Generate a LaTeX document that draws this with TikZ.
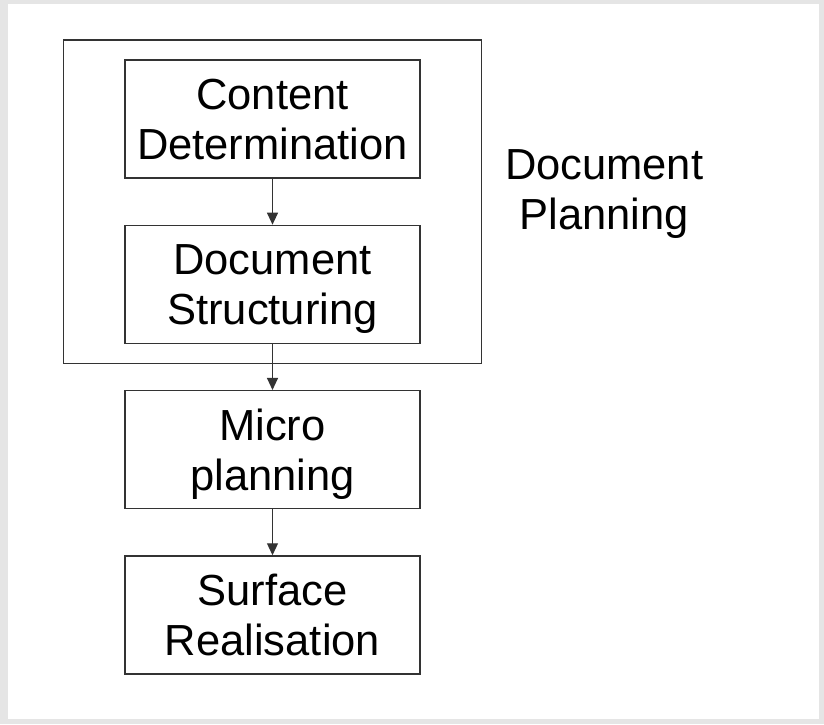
\documentclass[tikz,border=0pt]{standalone}
\usepackage{fontspec}
\setmainfont{Liberation Sans}
\usetikzlibrary{positioning,fit,arrows.meta}

\begin{document}
\begin{tikzpicture}
 [x=1pt, y=1pt,
  stage node/.style={draw=black!80, line width=1.3pt, minimum width=295pt, minimum height=118pt,
    align=center, inner sep=0pt, text depth=-3pt, font=\fontsize{43.5}{50}\selectfont},
  flow/.style={-{Triangle[width=11pt,length=12pt]}, draw=black!80, line width=1.2pt},
  node distance=46pt]

% frame
\fill[gray!20] (-272.5,119) rectangle (551.5,-605);
\fill[white] (-264.5,115) rectangle (546.5,-600);

\node[stage node] (cd) {Content\\Determination};
\node[stage node] (ds) [below=of cd] {Document\\Structuring};
\node[stage node] (mp) [below=of ds] {Micro\\planning};
\node[stage node] (sr) [below=of mp] {Surface\\Realisation};

% document planning group
\node[draw=black!80, line width=1.3pt, fit=(cd)(ds), inner xsep=60.5pt, inner ysep=19.5pt] (dp) {};
\node[align=center, inner sep=0pt, font=\fontsize{43.5}{50}\selectfont]
  (dpl) [right=23pt of dp.east, yshift=8pt] {Document\\Planning};

\draw[flow] (cd) -- (ds);
\draw[flow] (ds) -- (mp);
\draw[flow] (mp) -- (sr);

\end{tikzpicture}
\end{document}
